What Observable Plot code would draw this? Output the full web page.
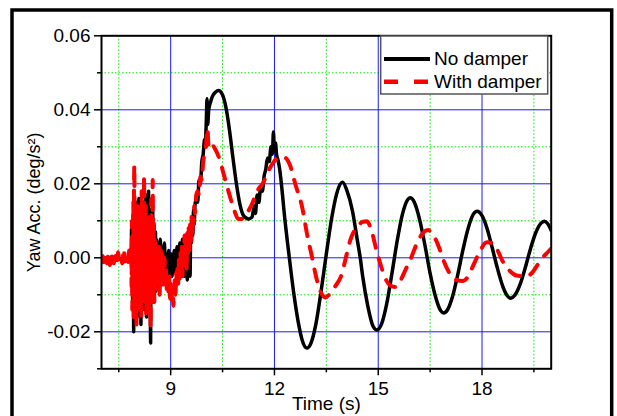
<!DOCTYPE html>
<html><head><meta charset="utf-8">
<script src="https://cdn.jsdelivr.net/npm/d3@7"></script>
<script src="https://cdn.jsdelivr.net/npm/@observablehq/plot@0.6"></script>
<style>html,body{margin:0;padding:0;background:#fff;}#chart{position:relative;width:617px;height:416px;overflow:hidden;}</style>
</head><body><div id="chart"></div>
<script>
// ---- data ----
const seriesNames = ["No damper", "With damper"];
const xLabel = "Time (s)";
const yLabel = "Yaw Acc. (deg/s\u00B2)";
const xMajorTicks = [9, 12, 15, 18];
const xMinorTicks = [7.5, 10.5, 13.5, 16.5, 19.5];
const yMajorTicks = [-0.02, 0, 0.02, 0.04, 0.06];
const yMinorTicks = [-0.03, -0.01, 0.01, 0.03, 0.05];

// [time (s), yaw acceleration] — No damper
const noDamperPoints = [
[7.00,-0.0005],[7.10,-0.0003],[7.20,-0.0008],[7.30,-0.0004],[7.40,-0.0006],[7.50,-0.0002],[7.60,-0.0007],[7.70,-0.0003],[7.80,-0.0005],
[7.86,0.001],[7.87,0.008],[7.88,-0.004],[7.89,0.010],[7.90,-0.012],[7.91,0.004],[7.92,0.012],[7.93,-0.020],[7.94,-0.008],[7.95,0.009],
[7.96,-0.003],[7.97,0.013],[7.98,-0.010],[7.99,0.006],[8.00,0.015],[8.01,-0.008],[8.02,-0.014],[8.03,0.004],[8.04,0.011],[8.05,-0.006],
[8.06,0.008],[8.07,-0.012],[8.08,0.016],[8.09,0.002],[8.10,-0.016],[8.11,0.007],[8.12,-0.004],[8.13,0.010],[8.14,-0.018],[8.15,-0.006],
[8.16,0.013],[8.17,0.003],[8.18,-0.011],[8.19,0.009],[8.20,0.015],[8.21,-0.007],[8.22,-0.014],[8.23,0.002],[8.24,0.010],[8.25,-0.009],
[8.26,0.005],[8.27,-0.012],[8.28,0.017],[8.29,0.004],[8.30,-0.016],[8.31,-0.003],[8.32,0.008],[8.33,-0.010],[8.34,0.003],[8.35,0.011],
[8.36,0.018],[8.37,-0.006],[8.38,-0.012],[8.39,0.006],[8.40,0.013],[8.41,-0.009],[8.42,-0.023],[8.43,0.002],[8.44,0.010],[8.45,-0.007],
[8.46,0.004],[8.47,-0.011],[8.48,0.014],[8.49,0.002],[8.50,-0.010],[8.51,0.006],[8.52,0.009],[8.53,-0.006],[8.54,0.003],[8.55,-0.008],
[8.56,0.007],[8.57,-0.003],[8.58,-0.009],[8.59,0.005],[8.60,0.002],[8.61,-0.004],[8.62,0.003],
[8.64,-0.001],[8.66,0.004],[8.68,0.000],[8.70,0.005],[8.72,-0.002],[8.74,0.003],[8.76,-0.004],[8.78,0.002],[8.80,-0.001],[8.82,0.004],
[8.84,-0.003],[8.86,0.001],[8.88,-0.005],[8.90,0.001],[8.92,-0.003],[8.94,0.002],[8.96,-0.006],[8.98,-0.001],[9.00,-0.004],[9.02,0.001],
[9.04,-0.005],[9.06,0.000],[9.08,-0.004],[9.10,0.002],[9.12,-0.003],[9.14,0.001],[9.16,-0.004],[9.18,0.003],[9.20,-0.002],[9.22,0.002],
[9.24,-0.003],[9.26,0.004],[9.28,-0.001],[9.30,0.003],[9.32,-0.004],[9.34,0.005],[9.36,-0.002],[9.38,0.004],[9.40,-0.005],[9.42,0.006],
[9.44,-0.001],[9.46,0.005],[9.48,-0.006],[9.50,0.007],[9.52,0.000],[9.54,0.006],[9.56,-0.005],[9.58,0.009],[9.60,0.004],[9.62,0.010],
[9.64,0.006],[9.66,0.013],[9.68,0.009],[9.70,0.014],
[9.74,0.016],[9.78,0.015],[9.82,0.021],[9.86,0.020],[9.90,0.026],[9.94,0.028],[9.98,0.032],[10.00,0.031],[10.03,0.037],[10.05,0.043],
[10.07,0.036],[10.10,0.040],[10.15,0.042],[10.20,0.0435],[10.30,0.0448],[10.38,0.0452],[10.50,0.0440],[10.60,0.0405],[10.70,0.0345],[10.80,0.027],
[10.90,0.020],[11.00,0.0145],[11.10,0.0115],[11.25,0.0105],[11.35,0.011],[11.42,0.014],[11.45,0.012],[11.50,0.017],[11.55,0.015],[11.60,0.019],
[11.65,0.018],[11.70,0.022],[11.75,0.024],[11.80,0.027],[11.85,0.026],[11.90,0.030],[11.94,0.028],[11.97,0.034],[12.00,0.029],[12.03,0.031],
[12.06,0.028],[12.10,0.0265],[12.15,0.024],[12.20,0.020],[12.30,0.0105],[12.43,0.000],[12.56,-0.0097],[12.70,-0.018],[12.80,-0.0222],[12.94,-0.0244],
[13.05,-0.0232],[13.20,-0.0178],[13.35,-0.0089],[13.50,0.0011],[13.65,0.0105],[13.80,0.0174],[13.97,0.0204],[14.10,0.018],[14.25,0.0129],[14.40,0.0045],
[14.48,0.000],[14.55,-0.005],[14.70,-0.0131],[14.85,-0.0185],[14.96,-0.0195],[15.10,-0.0178],[15.25,-0.0122],[15.40,-0.004],[15.55,0.0047],[15.70,0.0118],
[15.85,0.0157],[15.92,0.0162],[16.05,0.0149],[16.20,0.0102],[16.35,0.0034],[16.50,-0.0042],[16.65,-0.0103],[16.80,-0.0142],[16.89,-0.0149],[17.00,-0.0141],
[17.15,-0.0104],[17.30,-0.0045],[17.45,0.0022],[17.60,0.0080],[17.75,0.0118],[17.86,0.0126],[18.00,0.0114],[18.15,0.0078],[18.30,0.0025],[18.45,-0.0030],
[18.60,-0.0077],[18.72,-0.0101],[18.83,-0.0109],[18.95,-0.0101],[19.10,-0.0072],[19.25,-0.0027],[19.40,0.0024],[19.55,0.0067],[19.70,0.0093],[19.80,0.0099],
[19.90,0.0092],[20.00,0.0074]
];

// [time (s), yaw acceleration] — With damper
const withDamperPoints = [
[7.00,-0.001],[7.04,0.0005],[7.08,-0.002],[7.12,0.000],[7.16,-0.0015],[7.20,0.001],[7.24,-0.002],[7.28,-0.0005],[7.32,0.001],[7.36,-0.0015],
[7.40,0.0005],[7.44,-0.002],[7.48,0.0015],[7.52,-0.001],[7.56,0.000],[7.60,-0.0015],[7.64,0.0024],[7.68,-0.001],[7.72,0.0005],[7.76,-0.0015],
[7.80,0.002],[7.84,-0.001],
[7.86,0.003],[7.87,-0.008],[7.88,0.010],[7.89,-0.014],[7.90,0.006],[7.91,-0.004],[7.92,0.015],[7.93,-0.016],[7.94,0.020],[7.95,0.025],
[7.96,-0.010],[7.97,0.008],[7.98,-0.015],[7.99,0.002],[8.00,0.012],[8.01,-0.018],[8.02,0.004],[8.03,0.014],[8.04,-0.008],[8.05,0.010],
[8.06,-0.013],[8.07,0.006],[8.08,0.015],[8.09,-0.005],[8.10,-0.014],[8.11,0.009],[8.12,0.002],[8.13,-0.011],[8.14,0.012],[8.15,-0.016],
[8.16,0.018],[8.17,-0.004],[8.18,0.008],[8.19,-0.012],[8.20,0.010],[8.21,0.003],[8.22,-0.010],[8.23,0.022],[8.24,0.011],[8.25,-0.012],
[8.26,0.006],[8.27,-0.007],[8.28,0.014],[8.29,-0.015],[8.30,-0.006],[8.31,0.009],[8.32,-0.004],[8.33,0.012],[8.34,-0.013],[8.35,0.005],
[8.36,-0.008],[8.37,0.010],[8.38,-0.015],[8.39,0.003],[8.40,0.008],[8.41,-0.011],[8.42,-0.019],[8.43,0.007],[8.44,0.016],[8.45,-0.006],
[8.46,0.004],[8.47,-0.012],[8.48,0.021],[8.49,0.006],[8.50,-0.008],[8.51,0.010],[8.52,-0.003],[8.53,-0.012],[8.54,0.005],[8.55,-0.006],
[8.56,0.004],[8.57,-0.009],[8.58,0.001],[8.59,-0.007],[8.60,0.003],[8.61,-0.004],[8.62,-0.001],
[8.64,-0.006],[8.66,0.003],[8.68,-0.010],[8.70,-0.002],[8.72,0.002],[8.74,-0.006],[8.76,0.001],[8.78,-0.008],[8.80,-0.003],[8.82,0.000],
[8.84,-0.006],[8.86,-0.002],[8.88,-0.009],[8.90,-0.004],[8.92,-0.007],[8.94,-0.010],[8.96,-0.005],[8.98,-0.011],[9.00,-0.007],[9.02,-0.012],
[9.04,-0.008],[9.06,-0.010],[9.08,-0.013],[9.10,-0.009],[9.12,-0.006],[9.14,-0.010],[9.16,-0.004],[9.18,-0.008],[9.20,-0.002],[9.22,-0.007],
[9.24,0.000],[9.26,-0.006],[9.28,0.002],[9.30,-0.004],[9.32,0.003],[9.34,-0.005],[9.36,0.004],[9.38,-0.003],[9.40,0.006],[9.42,-0.002],
[9.44,0.005],[9.46,-0.003],[9.48,0.007],[9.50,0.000],[9.52,0.008],[9.54,0.002],[9.56,0.009],[9.58,0.004],[9.60,0.011],[9.62,0.006],
[9.64,0.012],[9.66,0.009],[9.68,0.014],[9.70,0.012],
[9.74,0.017],[9.78,0.018],[9.82,0.017],[9.86,0.022],[9.90,0.021],[9.94,0.026],[9.98,0.028],[10.02,0.030],[10.06,0.035],[10.10,0.030],
[10.15,0.031],[10.25,0.030],[10.40,0.027],[10.55,0.022],[10.70,0.017],[10.85,0.0125],[10.95,0.0105],[11.05,0.0105],[11.20,0.012],[11.35,0.0145],
[11.50,0.018],[11.68,0.0204],[11.80,0.023],[11.95,0.0255],[12.10,0.027],[12.25,0.0272],[12.32,0.027],[12.45,0.025],[12.60,0.020],[12.80,0.0137],
[12.95,0.006],[13.09,0.000],[13.20,-0.005],[13.35,-0.0095],[13.47,-0.0107],[13.60,-0.0098],[13.75,-0.0078],[13.95,-0.0043],[14.05,-0.0005],[14.19,0.0047],
[14.40,0.0085],[14.55,0.0097],[14.67,0.0099],[14.80,0.0075],[14.95,0.002],[15.06,-0.0016],[15.20,-0.0055],[15.35,-0.0075],[15.49,-0.0079],[15.65,-0.006],
[15.80,-0.003],[15.92,-0.0007],[16.10,0.0035],[16.30,0.0068],[16.44,0.0075],[16.60,0.006],[16.75,0.003],[16.90,-0.001],[17.05,-0.004],[17.20,-0.0058],
[17.45,-0.0063],[17.60,-0.005],[17.75,-0.002],[17.90,0.001],[18.14,0.0042],[18.30,0.004],[18.45,0.002],[18.60,-0.001],[18.80,-0.0035],[19.00,-0.0048],
[19.30,-0.005],[19.45,-0.004],[19.60,-0.002],[19.75,0.000],[19.90,0.0015],[20.00,0.0025]
];

const noDamper = noDamperPoints.map(([t, v]) => ({t, v}));
const withDamper = withDamperPoints.map(([t, v]) => ({t, v}));

const font = "'Liberation Sans', Arial, Helvetica, sans-serif";
const chart = Plot.plot({
  width: 617, height: 416,
  marginLeft: 101, marginRight: 66.3, marginTop: 35.3, marginBottom: 47.7,
  style: {fontFamily: font, fontSize: "19px", background: "white", color: "black"},
  x: {domain: [7, 20]},
  y: {domain: [-0.03, 0.06]},
  marks: [
    Plot.ruleX(xMinorTicks, {stroke: "#00e600", strokeWidth: 1, strokeDasharray: "1.5,2"}),
    Plot.ruleY(yMinorTicks.filter(d => d > -0.03), {stroke: "#00e600", strokeWidth: 1, strokeDasharray: "1.5,2"}),
    Plot.ruleX(xMajorTicks, {stroke: "#1a1aff", strokeWidth: 1}),
    Plot.ruleY(yMajorTicks.filter(d => d < 0.06), {stroke: "#1a1aff", strokeWidth: 1}),
    Plot.line(noDamper, {x: "t", y: "v", stroke: "black", strokeWidth: 3.5, curve: "monotone-x", clip: true}),
    Plot.line(withDamper, {x: "t", y: "v", stroke: "#ff0000", strokeWidth: 4, strokeDasharray: "12,11", curve: "monotone-x", clip: true}),
    Plot.frame({stroke: "black", strokeWidth: 2}),
    Plot.axisX(xMajorTicks, {tickSize: 7, tickPadding: 6, strokeWidth: 1.5, tickFormat: d => String(d), label: null}),
    Plot.axisX(xMinorTicks, {tickSize: 4, strokeWidth: 1.5, tickFormat: () => "", label: null}),
    Plot.axisY(yMajorTicks, {tickSize: 7, tickPadding: 4, strokeWidth: 1.5, tickFormat: d => d.toFixed(2), label: null}),
    Plot.axisY(yMinorTicks, {tickSize: 4, strokeWidth: 1.5, tickFormat: () => "", label: null}),
    Plot.text([xLabel], {text: d => d, frameAnchor: "bottom", lineAnchor: "middle", textAnchor: "middle", dy: 35.6, fontSize: 19}),
    Plot.text([yLabel], {text: d => d, frameAnchor: "left", lineAnchor: "middle", textAnchor: "middle", dx: -66.8, rotate: -90, fontSize: 18})
  ]
});
document.getElementById("chart").appendChild(chart);

// legend (inside plot, top right) and outer frame
const svg = d3.select(chart);
const lg = svg.append("g").attr("font-family", font).attr("font-size", 19).attr("text-anchor", "start");
lg.append("rect").attr("x", 380.7).attr("y", 36).attr("width", 167).attr("height", 58)
  .attr("fill", "white").attr("stroke", "#555").attr("stroke-width", 1.5);
lg.append("line").attr("x1", 384).attr("x2", 430).attr("y1", 59).attr("y2", 59)
  .attr("stroke", "black").attr("stroke-width", 4);
lg.append("line").attr("x1", 384).attr("x2", 430).attr("y1", 81.7).attr("y2", 81.7)
  .attr("stroke", "#ff0000").attr("stroke-width", 4.5).attr("stroke-dasharray", "14,16");
lg.append("text").attr("x", 434).attr("y", 65).attr("fill", "black").attr("text-anchor", "start").text(seriesNames[0]);
lg.append("text").attr("x", 434).attr("y", 88.3).attr("fill", "black").attr("text-anchor", "start").text(seriesNames[1]);
svg.append("rect").attr("x", 12).attr("y", 10).attr("width", 599.7).attr("height", 460)
  .attr("fill", "none").attr("stroke", "black").attr("stroke-width", 3.5);
</script></body></html>
